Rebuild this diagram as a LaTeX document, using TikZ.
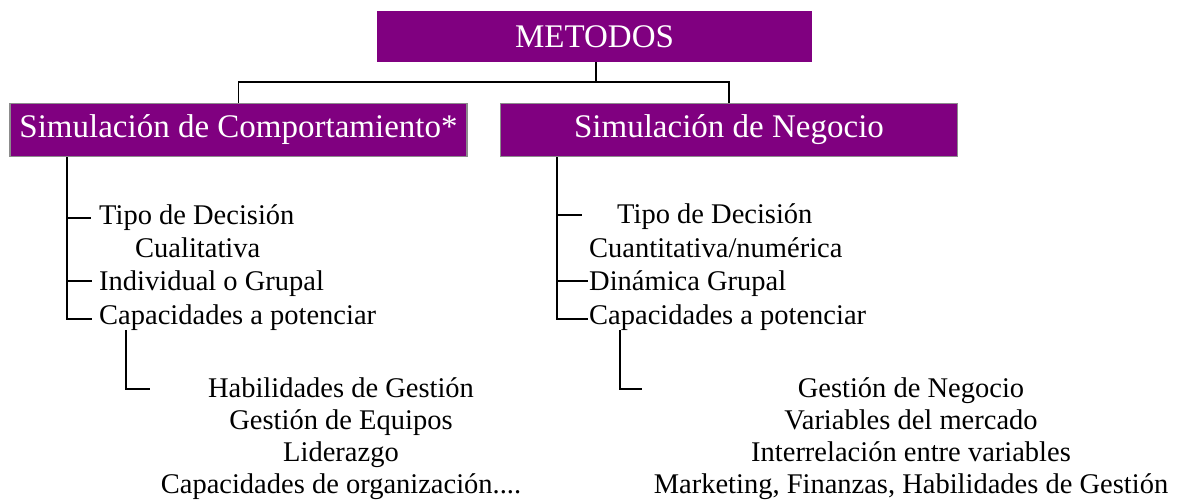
\documentclass[tikz,border=0pt]{standalone}
\usepackage{fontspec}
\setmainfont{Liberation Serif}
\definecolor{boxpurple}{HTML}{800080}
\definecolor{boxedge}{HTML}{8C8C8C}
\begin{document}
\begin{tikzpicture}[x=1pt,y=-1pt,
  titlebox/.style={fill=boxpurple,text=white,inner sep=0pt,
    font=\fontsize{33}{36}\selectfont},
  edgedbox/.style={titlebox,draw=boxedge,line width=1.5pt},
  item/.style={inner sep=0pt,font=\fontsize{28.5}{33}\selectfont},
  conn/.style={line width=1.8pt,black}]
\useasboundingbox (0,0) rectangle (1185,499);

% title boxes
\node[titlebox,minimum width=435pt,minimum height=51pt] (met) at (594.5,36.5) {METODOS};
\node[edgedbox,minimum width=457pt,minimum height=53pt] (sc) at (238.5,130) {Simulación de Comportamiento*};
\node[edgedbox,minimum width=457pt,minimum height=53pt] (sn) at (729,130) {Simulación de Negocio};

% top connectors
\coordinate (hub) at (596,82);
\draw[conn] (met.south -| hub) -- (hub);
\draw[conn] (hub) -| (sc.north);
\draw[conn] (hub) -| (sn.north);

% left list
\node[item,anchor=base west] (l1) at (99,224) {Tipo de Decisión};
\node[item,anchor=base west] (l2) at (135,257) {Cualitativa};
\node[item,anchor=base west] (l3) at (99,290) {Individual o Grupal};
\node[item,anchor=base west] (l4) at (99,324) {Capacidades a potenciar};
\coordinate (ltop) at (67,157);
\coordinate (lbot) at (67,319);
\coordinate (lt1) at (67,218);
\coordinate (lt3) at (67,281);
\draw[conn] (ltop) -- (lbot) -- ++(25,0);
\draw[conn] (lt1) -- ++(24,0);
\draw[conn] (lt3) -- ++(25,0);

% left sub list
\node[item,anchor=base] (ls1) at (341,397) {Habilidades de Gestión};
\node[item,anchor=base] (ls2) at (341,429) {Gestión de Equipos};
\node[item,anchor=base] (ls3) at (341,461) {Liderazgo};
\node[item,anchor=base] (ls4) at (341,493) {Capacidades de organización....};
\coordinate (lstop) at (126,330);
\coordinate (lsbot) at (126,389);
\draw[conn] (lstop) -- (lsbot) -- ++(24,0);

% right list
\node[item,anchor=base west] (r1) at (617,223) {Tipo de Decisión};
\node[item,anchor=base west] (r2) at (589,257) {Cuantitativa/numérica};
\node[item,anchor=base west] (r3) at (589,290) {Dinámica Grupal};
\node[item,anchor=base west] (r4) at (589,324) {Capacidades a potenciar};
\coordinate (rtop) at (557,157);
\coordinate (rbot) at (557,319);
\coordinate (rt1) at (557,215);
\coordinate (rt3) at (557,281);
\draw[conn] (rtop) -- (rbot) -- ++(31,0);
\draw[conn] (rt1) -- ++(25,0);
\draw[conn] (rt3) -- ++(31,0);

% right sub list
\node[item,anchor=base] (rs1) at (911,397) {Gestión de Negocio};
\node[item,anchor=base] (rs2) at (911,429) {Variables del mercado};
\node[item,anchor=base] (rs3) at (911,461) {Interrelación entre variables};
\node[item,anchor=base] (rs4) at (911,493) {Marketing, Finanzas, Habilidades de Gestión};
\coordinate (rstop) at (620,330);
\coordinate (rsbot) at (620,389);
\draw[conn] (rstop) -- (rsbot) -- ++(22,0);
\end{tikzpicture}
\end{document}
